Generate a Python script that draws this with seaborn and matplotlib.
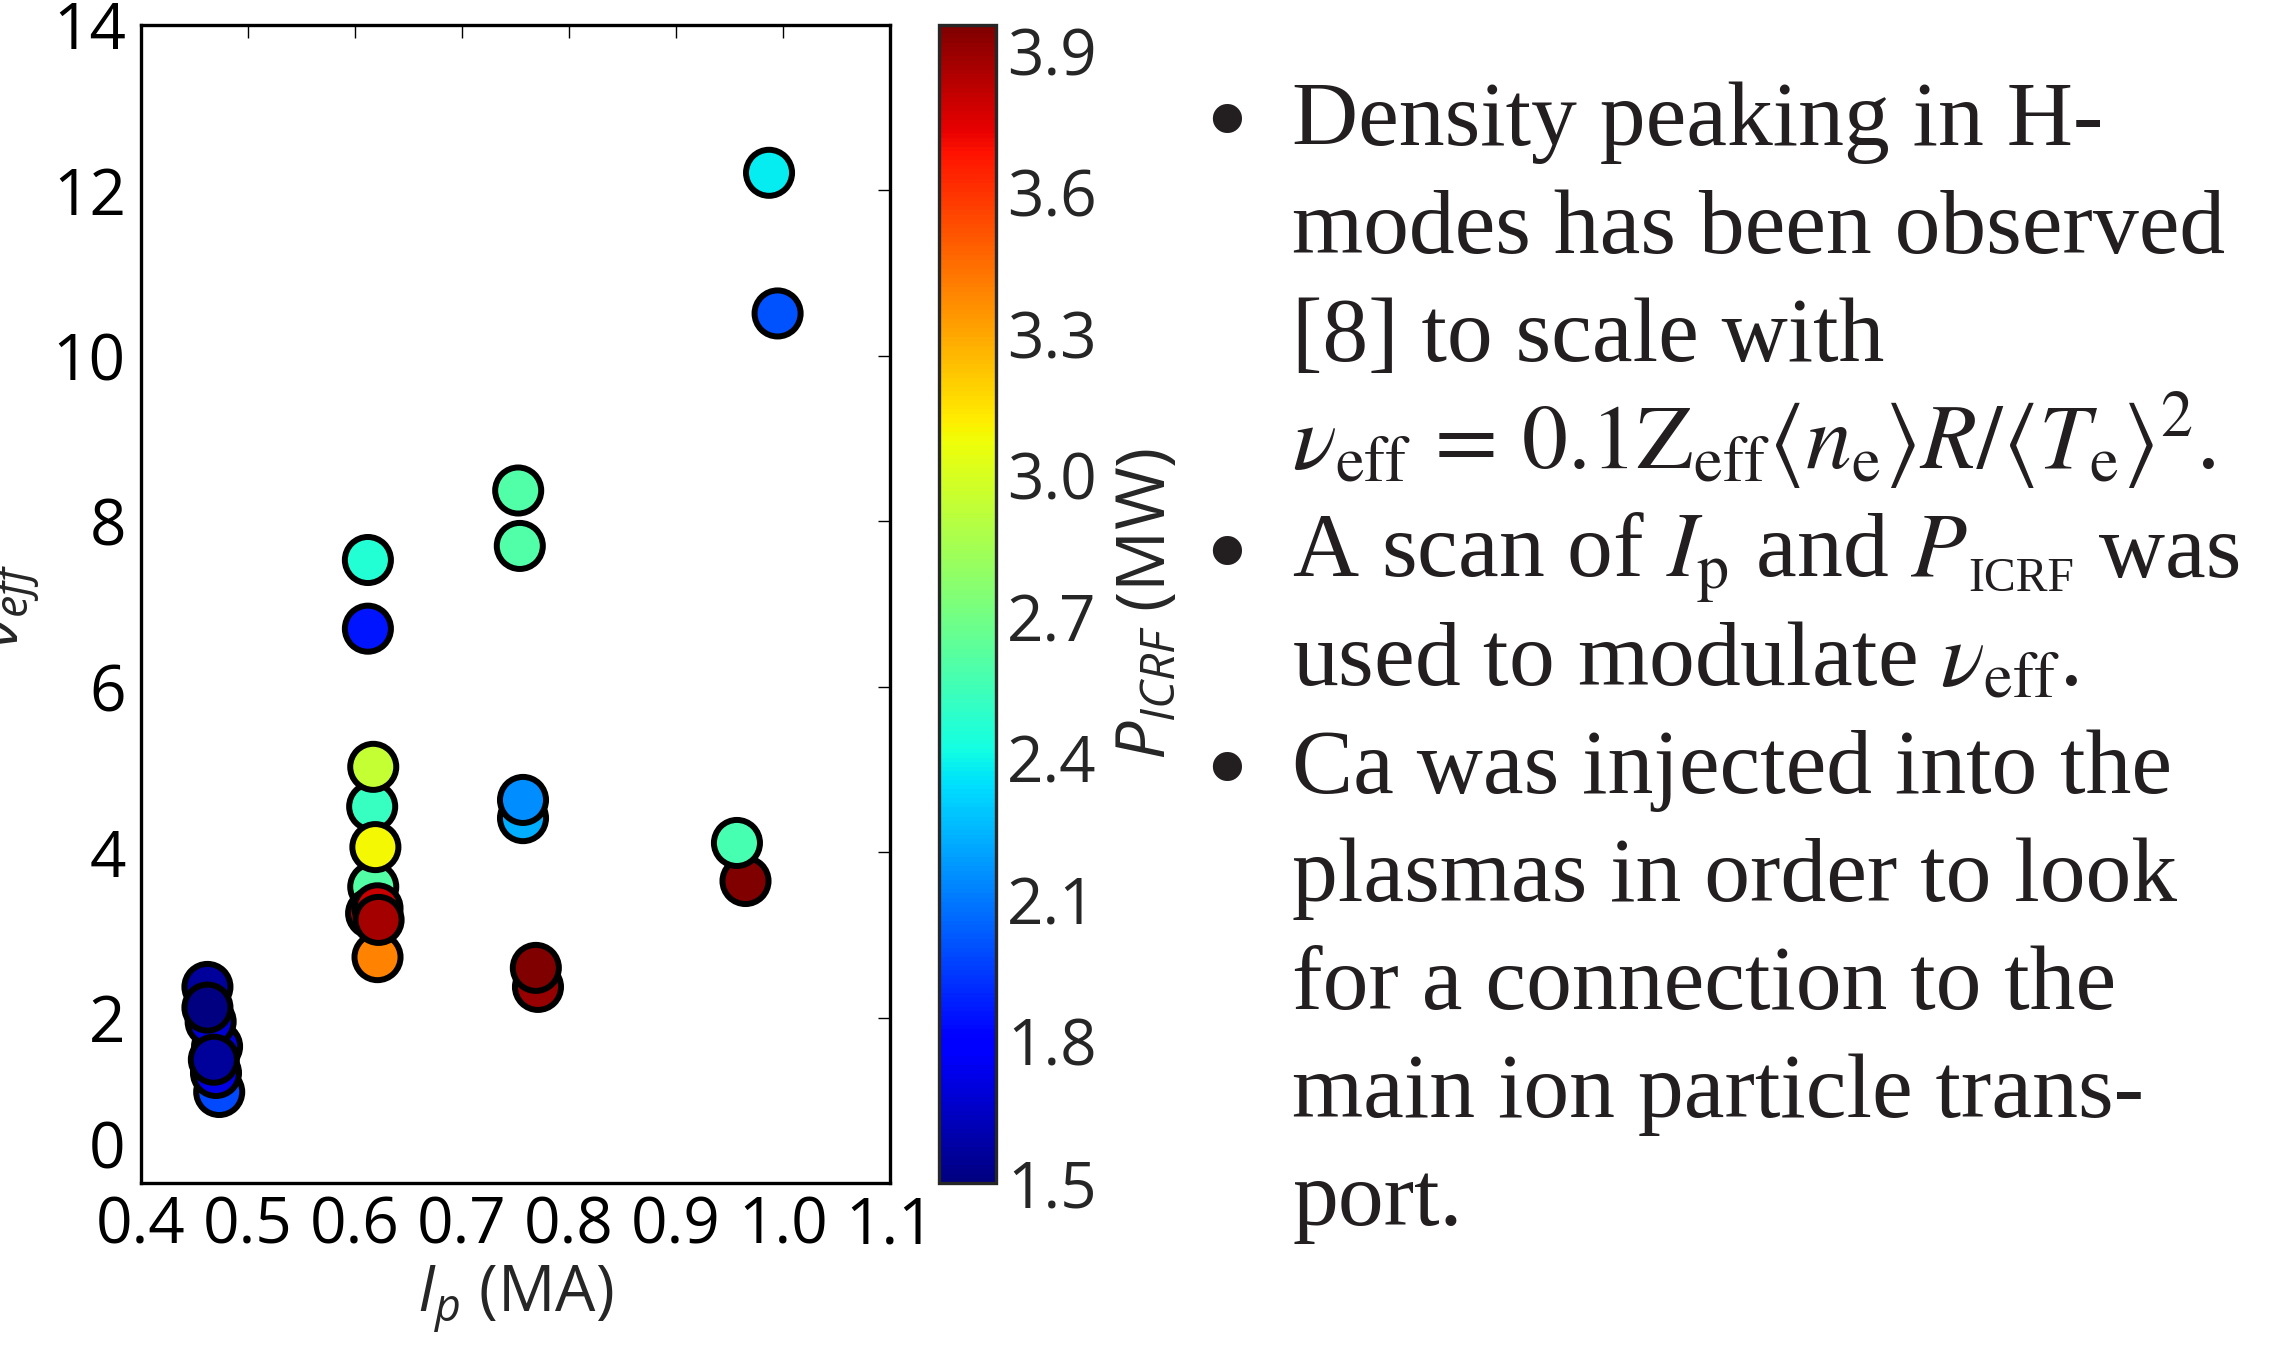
import matplotlib
matplotlib.use("Agg")
import matplotlib.pyplot as plt
import matplotlib.colors as mcolors
import matplotlib.cm as cm
import matplotlib.transforms as mtransforms
import numpy as np
import pandas as pd
import seaborn as sns

# ---------------- data ----------------
ip_ma = [0.473, 0.471, 0.465, 0.470, 0.462, 0.462, 0.468,
         0.612, 0.612,
         0.621, 0.617, 0.616, 0.619, 0.617, 0.615, 0.621, 0.622,
         0.757, 0.757,
         0.7525, 0.754,
         0.771, 0.769,
         0.965, 0.957,
         0.987, 0.995]
nu_eff = [1.10, 1.65, 1.95, 1.33, 2.37, 2.12, 1.49,
          7.53, 6.70,
          2.73, 3.58, 4.55, 4.06, 5.03, 3.26, 3.32, 3.18,
          4.41, 4.63,
          8.37, 7.70,
          2.37, 2.60,
          3.65, 4.11,
          12.21, 10.51]
p_icrf = [1.98, 1.70, 1.68, 1.72, 1.56, 1.50, 1.56,
          2.46, 1.86,
          3.39, 2.61, 2.52, 3.09, 2.94, 3.85, 3.80, 3.87,
          2.22, 2.15,
          2.60, 2.60,
          3.90, 3.955,
          3.955, 2.57,
          2.38, 2.00]

x_ticks = [0.4, 0.5, 0.6, 0.7, 0.8, 0.9, 1.0, 1.1]
y_ticks = [0, 2, 4, 6, 8, 10, 12, 14]
cbar_ticks = [1.5, 1.8, 2.1, 2.4, 2.7, 3.0, 3.3, 3.6, 3.9]

# each line: (bullet?, list of (text, is_smallcaps_subscript))
bullet_lines = [
    (True,  [("Density peaking in H-", False)]),
    (False, [("modes has been observed", False)]),
    (False, [("[8] to scale with", False)]),
    (False, [(r"$\nu_\mathrm{eff}\,=\,0.1\mathrm{Z}_\mathrm{eff}\langle n_\mathrm{e}\rangle R/\langle T_\mathrm{e}\rangle^2$.", False)]),
    (True,  [(r"A scan of $I_\mathrm{p}$ and $P$", False), ("ICRF", True), (" was", False)]),
    (False, [(r"used to modulate $\nu_\mathrm{eff}$.", False)]),
    (True,  [("Ca was injected into the", False)]),
    (False, [("plasmas in order to look", False)]),
    (False, [("for a connection to the", False)]),
    (False, [("main ion particle trans-", False)]),
    (False, [("port.", False)]),
]

# ---------------- style ----------------
sns.set_style("white")
plt.rcParams['font.family'] = ['Open Sans', 'DejaVu Sans']
plt.rcParams['mathtext.fontset'] = 'custom'
plt.rcParams['mathtext.rm'] = 'Open Sans'
plt.rcParams['mathtext.it'] = 'Open Sans:italic'
plt.rcParams['mathtext.bf'] = 'Open Sans:bold'

df = pd.DataFrame({"Ip": ip_ma, "nu": nu_eff, "P": p_icrf})
vmin, vmax = min(p_icrf), max(p_icrf)
norm = mcolors.Normalize(vmin=vmin, vmax=vmax)
jet = plt.get_cmap("jet")

fig = plt.figure(figsize=(22.76, 13.5), dpi=100)
ax = fig.add_axes([0.062, 0.1237, 0.329, 0.858])
cax = fig.add_axes([0.4126, 0.1237, 0.025, 0.858])

sns.scatterplot(data=df, x="Ip", y="nu", hue="P", palette=jet, hue_norm=norm,
                s=1100, edgecolor="black", linewidth=4.3, legend=False, ax=ax,
                zorder=3)

ax.set_xlim(0.4, 1.1)
ax.set_ylim(0, 14)
ax.set_xticks(x_ticks)
ax.set_xticklabels([f"{v:.1f}" for v in x_ticks])
ax.set_yticks(y_ticks)
ax.set_yticklabels([str(v) for v in y_ticks])
ax.tick_params(direction="in", length=9, width=1.0, labelsize=46,
               top=True, right=True, colors="black")
ax.tick_params(axis="x", pad=8)
ax.tick_params(axis="y", pad=11)
ax.get_yticklabels()[0].set_va("bottom")
for sp in ax.spines.values():
    sp.set_linewidth(2.4)
    sp.set_color("black")
ax.set_xlabel(r"$I_p$ (MA)", fontsize=46, labelpad=4)
ax.set_ylabel(r"$\nu_{eff}$", fontsize=46)
ax.yaxis.set_label_coords(-0.133, 0.5)

sm = cm.ScalarMappable(norm=norm, cmap=jet)
cbar = fig.colorbar(sm, cax=cax)
cbar.set_ticks(cbar_ticks)
cbar.set_ticklabels([f"{v:.1f}" for v in cbar_ticks])
cbar.ax.tick_params(direction="in", length=9, width=1.0, labelsize=46, pad=8)
cbar.outline.set_linewidth(2.4)
cbar.set_label(r"$P_{ICRF}$ (MW)", fontsize=49, labelpad=12)

# ---------------- right text ----------------
W, H = 2276.0, 1350.0
x_text = 1292.0
x_bullet = 1227.0
base0 = 145.0
step = 108.0
fs = 66
col = "#231f20"
renderer = fig.canvas.get_renderer()
for i, (bul, pieces) in enumerate(bullet_lines):
    yb_px = H - (base0 + i * step)
    x_px = x_text
    for txt, small in pieces:
        if small:
            t = fig.text(x_px / W, (yb_px - 14) / H, txt, fontsize=fs * 0.52,
                         family="Liberation Serif", va="baseline", ha="left", color=col)
            x_px += t.get_window_extent(renderer).width + 2
        else:
            t = fig.text(x_px / W, yb_px / H, txt, fontsize=fs, family="Liberation Serif",
                         math_fontfamily="stix", va="baseline", ha="left", color=col)
            x_px += t.get_window_extent(renderer).width
    if bul:
        fig.text(x_bullet / W, (yb_px - 14) / H, "\u2022", fontsize=88,
                 family="Liberation Serif", va="baseline", ha="center", color=col)

fig.savefig("out.png", dpi=100)
